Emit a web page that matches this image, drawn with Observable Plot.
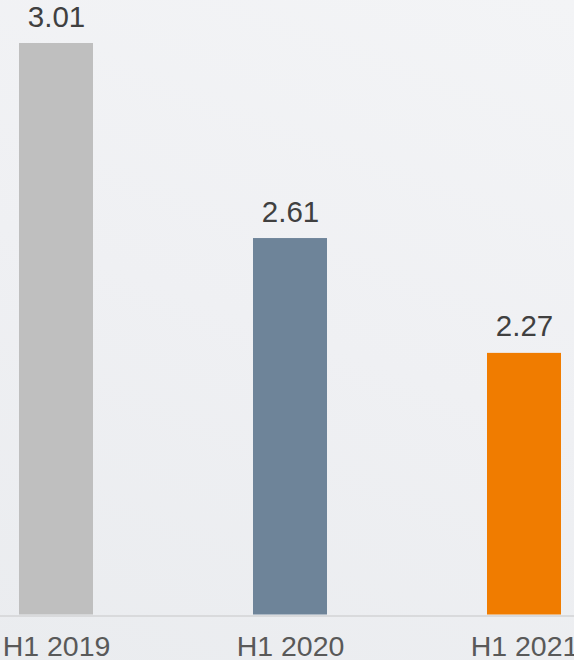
<!DOCTYPE html>
<html>
<head>
<meta charset="utf-8">
<script src="https://cdn.jsdelivr.net/npm/d3@7"></script>
<script src="https://cdn.jsdelivr.net/npm/@observablehq/plot@0.6"></script>
<style>
  html, body { margin: 0; padding: 0; }
  body { width: 574px; height: 660px; overflow: hidden;
         background: linear-gradient(20deg, #eaecef 0%, #eff0f3 50%, #f3f4f6 100%); }
  #chart svg { display: block; background: transparent; font-family: "Liberation Sans", Arial, sans-serif; }
</style>
</head>
<body>
<div id="chart"></div>
<script>
const categories = ["H1 2019", "H1 2020", "H1 2021"];
const values = [3.01, 2.61, 2.27];
const labels = ["3.01", "2.61", "2.27"];
const colors = ["#bfbfbf", "#6e8499", "#f07c00"];

const data = categories.map((c, i) => ({category: c, value: values[i], label: labels[i], color: colors[i]}));
const yMin = -1.859; // baseline of the (non-proportional) source bars

const chart = Plot.plot({
  width: 574,
  height: 660,
  marginTop: 43,
  marginBottom: 45.5,
  marginLeft: 3,
  marginRight: -3,
  style: {background: "transparent", fontFamily: "'Liberation Sans', Arial, sans-serif"},
  x: {domain: categories, paddingInner: 0.6848, paddingOuter: 0.065, label: null},
  y: {type: "pow", exponent: 3.6, domain: [yMin, 3.01], axis: null},
  color: {type: "identity"},
  marks: [
    Plot.barY(data, {x: "category", y1: () => yMin, y2: "value", fill: "color"}),
    Plot.ruleY([yMin], {stroke: "#d9dadc", strokeWidth: 2, dy: 1, insetLeft: -3, insetRight: -3}),
    Plot.text(data, {x: "category", y: "value", text: "label", dy: -17, lineAnchor: "bottom",
                     fontSize: 29.5, fill: "#404040"}),
    Plot.axisX({tickSize: 0, tickPadding: 21, fontSize: 28.5, color: "#595959", label: null})
  ]
});
document.getElementById("chart").appendChild(chart);
</script>
</body>
</html>
